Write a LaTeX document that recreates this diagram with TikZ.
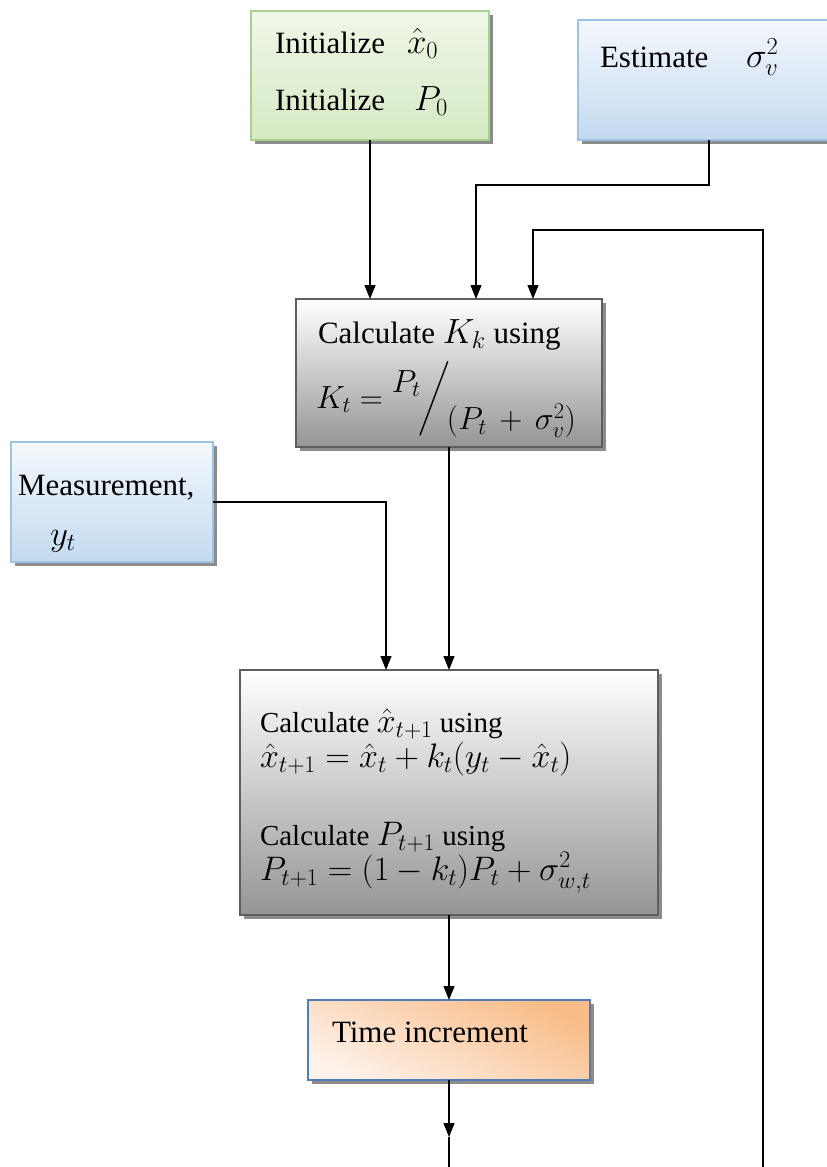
\documentclass[tikz,border=0pt]{standalone}
\usepackage{fix-cm}
\usepackage{amsmath}
\usepackage{fontspec}
\setmainfont{Liberation Serif}
\usetikzlibrary{arrows.meta,shadows}
\definecolor{grtop}{HTML}{F0F7E8}
\definecolor{grbot}{HTML}{D5E9C3}
\definecolor{grline}{HTML}{A9D18E}
\definecolor{bltop}{HTML}{F4F8FC}
\definecolor{blbot}{HTML}{C3DAF0}
\definecolor{blline}{HTML}{9DC3E6}
\definecolor{gytop}{HTML}{FFFFFF}
\definecolor{gybot}{HTML}{959595}
\definecolor{gyline}{HTML}{5E5E5E}
\definecolor{ortop}{HTML}{F8BC88}
\definecolor{orbot}{HTML}{FEF1E8}
\definecolor{orline}{HTML}{4F7DB5}
\definecolor{shgray}{HTML}{8C8C8C}
\newcommand{\mA}[1]{{\fontsize{35}{40}\selectfont$#1$}}
\newcommand{\mB}[1]{{\fontsize{34}{38}\selectfont$#1$}}
\newcommand{\mK}[1]{{\fontsize{32}{38}\selectfont$#1$}}
\begin{document}
\begin{tikzpicture}[x=1pt,y=-1pt,
  boxbase/.style={rectangle,inner sep=0pt,outer sep=0pt,anchor=north west,line width=1.6pt,
    drop shadow={shadow xshift=4pt,shadow yshift=-4pt,fill=shgray,opacity=1}},
  greenbox/.style={boxbase,draw=grline,top color=grtop,bottom color=grbot},
  bluebox/.style={boxbase,draw=blline,top color=bltop,bottom color=blbot},
  graybox/.style={boxbase,draw=gyline,top color=gytop,bottom color=gybot},
  orangebox/.style={boxbase,draw=orline,top color=ortop,bottom color=orbot,shading angle=-25},
  txt/.style={anchor=base west,inner sep=0pt,outer sep=0pt,font=\fontsize{31}{37}\selectfont},
  txtb/.style={anchor=base west,inner sep=0pt,outer sep=0pt,font=\fontsize{29}{35}\selectfont},
  arr/.style={line width=1.2pt,-{Triangle[length=14pt,width=11pt]}},
  ln/.style={line width=1.2pt}
]
\useasboundingbox (0,0) rectangle (827,1167);

% boxes
\node[greenbox,minimum width=238pt,minimum height=129pt] (init) at (251,11) {};
\node[bluebox,minimum width=262pt,minimum height=120pt] (est) at (578,20) {};
\node[graybox,minimum width=306pt,minimum height=148pt] (kbox) at (296,299) {};
\node[bluebox,minimum width=202pt,minimum height=120pt] (meas) at (11,442) {};
\node[graybox,minimum width=418pt,minimum height=245pt] (big) at (240,670) {};
\node[orangebox,minimum width=282pt,minimum height=80pt] (time) at (308,1000) {};

% texts
\node[txt] (t1) at (275,53) {Initialize};
\node[txt] (t1m) at (407,53) {\mA{\hat{x}_0}};
\node[txt] (t2) at (275,110) {Initialize};
\node[txt] (t2m) at (414,110) {\mA{P_0}};
\node[txt] (e1) at (600,67) {Estimate};
\node[txt] (e1m) at (746,67) {\mA{\sigma_v^2}};
\node[txt] (k1) at (318,343) {Calculate \mA{K_k} using};
\node[txt] (k2) at (316,408) {\mK{K_t = \raisebox{0.5em}{$P_t$}\mkern-1mu\raisebox{0.05em}{$\bigg/$}\mkern-2mu\raisebox{-0.68em}{$(P_t \,+\, \sigma_v^2)$}}};
\node[txt] (m1) at (18,495) {Measurement,};
\node[txt] (m2) at (50,545) {\mA{y_t}};
\node[txtb] (b1) at (260,732) {Calculate \mB{\hat{x}_{t+1}} using};
\node[txtb] (b2) at (260,767) {\mB{\hat{x}_{t+1} = \hat{x}_t + k_t(y_t - \hat{x}_t)}};
\node[txtb] (b3) at (260,845) {Calculate \mB{P_{t+1}} using};
\node[txtb] (b4) at (260,880) {\mB{P_{t+1} = (1 - k_t)P_t + \sigma_{w,t}^2}};
\node[txt] (ti) at (332,1042) {Time increment};

% coordinates
\coordinate (kin2) at (476,299);
\coordinate (kin3) at (533,299);
\coordinate (bin1) at (386,670);
\coordinate (fbstart) at (763,1167);
\coordinate (fbcorner) at (763,230);
\coordinate (estcorner) at (709,185);
\coordinate (midarrow) at (449,1137);
\coordinate (bottom) at (449,1167);

% connectors
\draw[arr] (init.south) -- (init.south |- kbox.north);
\draw[arr] (est.south) -- (estcorner) -| (kin2);
\draw[arr] (fbstart) -- (fbcorner) -| (kin3);
\draw[arr] (kbox.south) -- (big.north);
\draw[arr] (meas.east) -| (bin1);
\draw[arr] (big.south) -- (time.north);
\draw[arr] (time.south) -- (midarrow);
\draw[ln] (midarrow) -- (bottom);
\end{tikzpicture}
\end{document}
